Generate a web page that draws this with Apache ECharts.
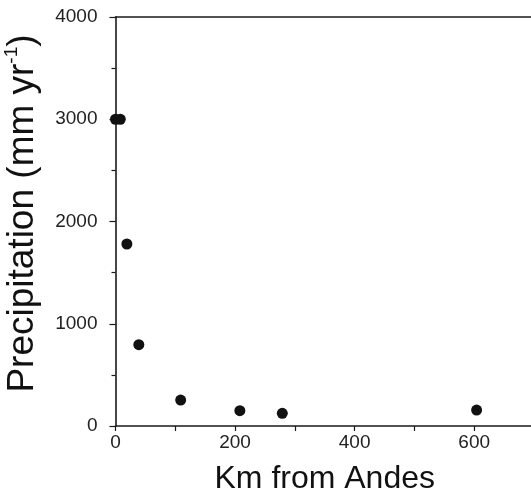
<!DOCTYPE html>
<html>
<head>
<meta charset="utf-8">
<script src="https://cdn.jsdelivr.net/npm/echarts@6/dist/echarts.min.js"></script>
<style>
html,body{margin:0;padding:0;background:#fff;}
#c{width:531px;height:502px;}
</style>
</head>
<body>
<div id="c"></div>
<script>
var kmFromAndes = [0, 8, 19, 39, 109, 208, 279, 604];
var precipitation = [3000, 3000, 1780, 795, 254, 150, 124, 156];
var xTickLabels = ['0', '200', '400', '600'];
var yTickLabels = ['0', '1000', '2000', '3000', '4000'];

var points = kmFromAndes.map(function (x, i) { return [x, precipitation[i]]; });
var font = 'Liberation Sans, Arial, Helvetica, sans-serif';
var ink = '#1a1a1a';

var chart = echarts.init(document.getElementById('c'), null, {renderer: 'canvas'});
chart.setOption({
  animation: false,
  backgroundColor: '#fff',
  grid: {left: 115.5, top: 17, width: 418.5, bottom: 76, containLabel: false, outerBoundsMode: 'none'},
  xAxis: [{
    type: 'value', min: 0, max: 700, interval: 100,
    axisLine: {show: true, onZero: false, lineStyle: {color: ink, width: 1.6}},
    axisTick: {show: true, inside: false, length: 5, lineStyle: {color: ink, width: 1.2}},
    splitLine: {show: false},
    axisLabel: {
      margin: 7, fontSize: 19, color: '#222', fontFamily: font,
      formatter: function (v) { var s = String(v); return xTickLabels.indexOf(s) >= 0 ? s : ''; }
    },
    name: 'Km from Andes', nameLocation: 'middle', nameGap: 37,
    nameTextStyle: {fontSize: 32, color: '#111', fontFamily: font}
  }, {
    type: 'value', position: 'top', min: 0, max: 700,
    axisLine: {show: true, onZero: false, lineStyle: {color: ink, width: 1.6}},
    axisTick: {show: false}, axisLabel: {show: false}, splitLine: {show: false}
  }],
  yAxis: {
    type: 'value', min: 0, max: 4000, interval: 1000,
    axisLine: {show: true, onZero: false, lineStyle: {color: ink, width: 1.6}},
    axisTick: {show: true, inside: false, length: 6, lineStyle: {color: ink, width: 1.2}},
    minorTick: {show: true, splitNumber: 2, length: 4, lineStyle: {color: ink, width: 1.2}},
    splitLine: {show: false},
    axisLabel: {
      margin: 18, fontSize: 19, color: '#222', fontFamily: font,
      formatter: function (v) { var s = String(v); return yTickLabels.indexOf(s) >= 0 ? s : ''; }
    },
    name: '{a|Precipitation (mm yr}{s|-1}{a|)}', nameLocation: 'middle', nameGap: 73,
    nameTextStyle: {
      color: '#111', fontFamily: font, padding: [0, 0, 0, 16],
      rich: {
        a: {fontSize: 37, color: '#111', fontFamily: font, lineHeight: 40},
        s: {fontSize: 19, color: '#111', fontFamily: font, verticalAlign: 'top', lineHeight: 40}
      }
    }
  },
  series: [{
    type: 'scatter', data: points, symbol: 'circle', symbolSize: 11,
    itemStyle: {color: '#111', opacity: 1}, clip: false
  }]
});
</script>
</body>
</html>
